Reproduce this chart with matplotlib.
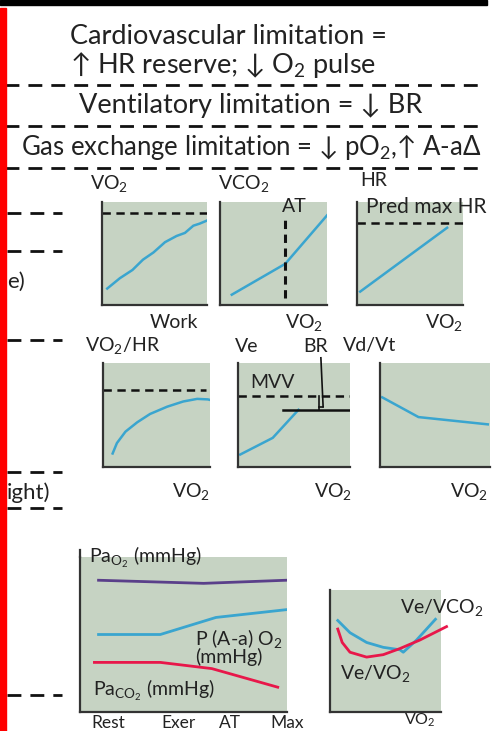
import matplotlib
matplotlib.use("Agg")
import matplotlib.pyplot as plt
from matplotlib.lines import Line2D
from matplotlib.patches import Rectangle

plt.rcParams['font.family'] = ['Lato', 'DejaVu Sans']
plt.rcParams['mathtext.fontset'] = 'custom'
plt.rcParams['mathtext.rm'] = 'Lato'
plt.rcParams['mathtext.it'] = 'Lato'
plt.rcParams['mathtext.bf'] = 'Lato:bold'
plt.rcParams['lines.scale_dashes'] = False

# row 1: VO2 vs work, VCO2 vs VO2, HR vs VO2
work_x = [5, 17, 29, 39, 49, 60, 71, 79, 87, 93, 100]
vo2_y = [16, 26, 34, 44, 51, 61, 67, 70, 77, 79, 82]
vo2_max = 89
vco2_x = [11, 61, 100]
vco2_y = [10, 40, 87]
at_x = 61
at_span = [7, 84]
hr_x = [3, 85]
hr_y = [13, 75]
pred_max_hr = 80

# row 2: O2 pulse, Ve with MVV, Vd/Vt
o2p_x = [9, 13, 21, 32, 44, 60, 75, 88, 98, 100]
o2p_y = [13, 23, 34, 43, 51, 58, 63, 65.5, 65, 64.5]
o2p_max = 74
ve_x = [2, 31, 54]
ve_y = [12, 28, 55]
mvv = 68
ve_max = 55
br_x = 72
vdvt_x = [2, 35, 98]
vdvt_y = [67, 48, 41]

# row 3: blood gases by stage, ventilatory equivalents
stages = ['Rest', 'Exer', 'AT', 'Max']
stage_pos = [13.5, 48, 73, 100.5]
pao2_x = [9, 60, 100]
pao2_y = [85, 83, 85]
aa_x = [9, 39, 66, 100]
aa_y = [50, 50, 61, 66]
paco2_x = [7, 39, 64, 96]
paco2_y = [32, 32, 28, 16]
vevco2_x = [7, 18, 33, 48, 63, 66, 78, 95]
vevco2_y = [75, 65, 57, 53, 51, 49, 59, 76]
vevo2_x = [7, 11, 18, 33, 48, 63, 81, 105]
vevo2_y = [68, 57, 49, 45, 47, 52, 59, 70]

BG = '#c6d3c3'
SPINE = '#333333'
BLUE = '#3aa5cf'
RED = '#e8174a'
PURPLE = '#5a3f8a'
INK = '#222222'

W, H = 500, 731
fig = plt.figure(figsize=(5, 7.31), dpi=100)


def fx(x):
    return x / W


def fy(y):
    return 1 - y / H


def panel(x0, y0, x1, y1):
    ax = fig.add_axes([fx(x0), fy(y1), (x1 - x0) / W, (y1 - y0) / H])
    ax.set_facecolor(BG)
    ax.set_xlim(0, 100)
    ax.set_ylim(0, 100)
    ax.spines['top'].set_visible(False)
    ax.spines['right'].set_visible(False)
    for s in ('left', 'bottom'):
        ax.spines[s].set_color(SPINE)
        ax.spines[s].set_linewidth(1.6)
    ax.set_xticks([])
    ax.set_yticks([])
    return ax


def dash(x0, x1, y, lw=2.0):
    fig.add_artist(Line2D([fx(x0), fx(x1)], [fy(y), fy(y)], transform=fig.transFigure,
                          color='#111111', lw=lw, ls=(0, (10, 6.5))))


def txt(x, y, s, size=14, ha='left', va='center'):
    fig.text(fx(x), fy(y), s, fontsize=size, ha=ha, va=va, color=INK)


# frame bits
fig.add_artist(Rectangle((0, fy(5)), fx(487), 5 / H, transform=fig.transFigure,
                         color='black', zorder=5))
fig.add_artist(Rectangle((0, 0), fx(6), fy(8), transform=fig.transFigure,
                         color='#ff0000', zorder=5))

# header text
txt(70, 37, 'Cardiovascular limitation =', 19.5)
txt(70, 65, '\u2191 HR reserve; \u2193 O$_2$ pulse', 19.5)
dash(5, 482, 85)
txt(79, 106, 'Ventilatory limitation = \u2193 BR', 19.5)
dash(5, 482, 126)
txt(481, 147, 'Gas exchange limitation = \u2193 pO$_2$,\u2191 A-a\u0394', 18.5, ha='right')
dash(5, 482, 168)

# left margin fragments
dash(7, 62, 213)
dash(7, 62, 251)
txt(7, 282, 'e)', 16)
dash(7, 62, 340)
dash(7, 62, 472)
txt(7, 493, 'ight)', 16)
dash(7, 62, 508)
dash(7, 62, 695)

# row 1
ax = panel(102, 202, 207, 305)
ax.plot(work_x, vo2_y, color=BLUE, lw=1.8)
ax.axhline(vo2_max, color='#111111', lw=1.8, ls=(0, (6, 4)))
txt(90, 183, 'VO$_2$', 14)
txt(198, 322, 'Work', 14, ha='right')

ax = panel(220, 202, 327, 305)
ax.plot(vco2_x, vco2_y, color=BLUE, lw=1.8)
ax.vlines(at_x, at_span[0], at_span[1], color='#111111', lw=2.2, ls=(0, (6, 4)))
txt(218, 183, 'VCO$_2$', 14)
txt(294, 206, 'AT', 14, ha='center')
txt(323, 322, 'VO$_2$', 14, ha='right')

ax = panel(357, 202, 463, 305)
ax.plot(hr_x, hr_y, color=BLUE, lw=1.8)
ax.plot([0, 105], [pred_max_hr, pred_max_hr], color='#111111', lw=1.8,
        ls=(0, (6, 4)), clip_on=False)
txt(360, 181, 'HR', 14)
txt(366, 207, 'Pred max HR', 15)
txt(463, 322, 'VO$_2$', 14, ha='right')

# row 2
ax = panel(103, 363, 210, 467)
ax.plot(o2p_x, o2p_y, color=BLUE, lw=1.8)
ax.plot([0, 96], [o2p_max, o2p_max], color='#111111', lw=1.8, ls=(0, (6, 4)))
txt(85, 346, 'VO$_2$/HR', 14)
txt(210, 491, 'VO$_2$', 14, ha='right')

ax = panel(238, 363, 350, 467)
ax.plot(ve_x, ve_y, color=BLUE, lw=1.8)
ax.axhline(mvv, color='#111111', lw=1.8, ls=(0, (6, 4)))
ax.plot([40, 100], [ve_max, ve_max], color='#111111', lw=1.8)
ax.plot([br_x, br_x], [ve_max, mvv], color='#111111', lw=1.2)
ax.plot([br_x, br_x + 4], [ve_max + 3, ve_max + 3], color='#111111', lw=1.2)
ax.plot([br_x + 4, br_x + 2], [ve_max + 3, 105], color='#111111', lw=1.2, clip_on=False)
txt(235, 346, 'Ve', 14)
txt(303, 346, 'BR', 14)
txt(250, 382, 'MVV', 14)
txt(352, 491, 'VO$_2$', 14, ha='right')

ax = panel(380, 363, 490, 467)
ax.plot(vdvt_x, vdvt_y, color=BLUE, lw=1.8)
txt(343, 346, 'Vd/Vt', 14)
txt(488, 491, 'VO$_2$', 14, ha='right')

# row 3
ax = panel(80, 557, 287, 712)
ax.plot(pao2_x, pao2_y, color=PURPLE, lw=2.0)
ax.plot(aa_x, aa_y, color=BLUE, lw=2.0)
ax.plot(paco2_x, paco2_y, color=RED, lw=2.0)
ax.set_xticks(stage_pos, stages, fontsize=12.5)
ax.tick_params(axis='x', length=0, pad=2, colors=INK)
fig.add_artist(Line2D([fx(80), fx(80)], [fy(557), fy(550)], transform=fig.transFigure,
                      color=SPINE, lw=1.6))
txt(89, 557, 'Pa$_{\\mathrm{O_2}}$ (mmHg)', 14)
txt(195, 638, 'P (A-a) O$_2$', 14)
txt(195, 657, '(mmHg)', 14)
txt(93, 690, 'Pa$_{\\mathrm{CO_2}}$ (mmHg)', 14)

ax = panel(330, 590, 441, 712)
ax.plot(vevco2_x, vevco2_y, color=BLUE, lw=2.0)
ax.plot(vevo2_x, vevo2_y, color=RED, lw=2.0, clip_on=False)
txt(400, 607, 'Ve/VCO$_2$', 14)
txt(340, 673, 'Ve/VO$_2$', 14)
txt(420, 712, 'VO$_2$', 11.5, ha='center', va='top')

fig.savefig('out.png', dpi=100, facecolor='white')
